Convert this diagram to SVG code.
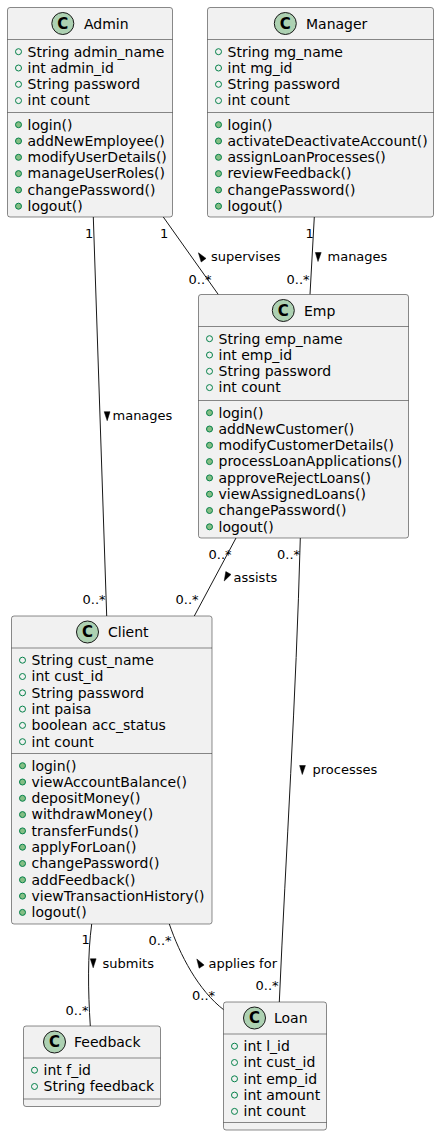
<svg xmlns="http://www.w3.org/2000/svg" width="439" height="1136" viewBox="0 0 439 1136">
<style>
.box{fill:#F1F1F1;stroke:#181818;stroke-width:0.5}
.sep{stroke:#181818;stroke-width:0.5}
.ci{fill:#ADD1B2;stroke:#181818;stroke-width:1}
.cl{font-family:"DejaVu Sans",sans-serif;font-size:15px;font-weight:bold;fill:#000;text-anchor:middle}
.nm{font-family:"DejaVu Sans",sans-serif;font-size:14px;fill:#000}
.mb{font-family:"DejaVu Sans",sans-serif;font-size:14px;fill:#000}
.fm{fill:none;stroke:#038048;stroke-width:1}
.mm{fill:#84BE84;stroke:#038048;stroke-width:1}
.ln{fill:none;stroke:#181818;stroke-width:1}
.lb{font-family:"DejaVu Sans",sans-serif;font-size:13px;fill:#000}
.ar{fill:#000;stroke:#000;stroke-width:0.5}
</style>
<rect width="439" height="1136" fill="#FFFFFF"/>
<g id="connectors">
<path class="ln" d="M93.3,217 L106.7,616"/>
<path class="ln" d="M163.3,217 L218.3,294.5"/>
<path class="ln" d="M314.3,217 L310,294.5"/>
<path class="ln" d="M236,538 L194.3,616"/>
<path class="ln" d="M300.3,538 C296,700 286,850 279.3,1002"/>
<path class="ln" d="M91.7,924 C87.5,955 88,990 90.3,1026"/>
<path class="ln" d="M169.3,924 C180,955 198,990 224,1010"/>
<text class="lb" x="85" y="237.5">1</text>
<text class="lb" x="82.5" y="603.5">0..*</text>
<polygon class="ar" points="107.2,420.7 104.2,411.7 110,411.7"/>
<text class="lb" x="112.5" y="420">manages</text>
<text class="lb" x="160" y="237.5">1</text>
<text class="lb" x="188.5" y="283.5">0..*</text>
<polygon class="ar" points="198.4,252.8 206,258.4 201.2,262"/>
<text class="lb" x="211" y="261">supervises</text>
<text class="lb" x="305.5" y="237.5">1</text>
<text class="lb" x="286.5" y="283.5">0..*</text>
<polygon class="ar" points="318,261.5 315.4,252.5 321.2,252.5"/>
<text class="lb" x="327.5" y="261">manages</text>
<text class="lb" x="208.5" y="558.5">0..*</text>
<text class="lb" x="175.5" y="603.5">0..*</text>
<polygon class="ar" points="224.2,581 231,574.4 225.8,571.6"/>
<text class="lb" x="233.5" y="581.5">assists</text>
<text class="lb" x="277" y="558.5">0..*</text>
<polygon class="ar" points="302.3,774.5 299.6,765.5 305.4,765.5"/>
<text class="lb" x="312.5" y="773.5">processes</text>
<text class="lb" x="255.5" y="990">0..*</text>
<text class="lb" x="81.5" y="944">1</text>
<text class="lb" x="65.5" y="1015">0..*</text>
<polygon class="ar" points="93.2,967.8 90.3,958.8 96.1,958.8"/>
<text class="lb" x="102.5" y="967.5">submits</text>
<text class="lb" x="148.5" y="945">0..*</text>
<polygon class="ar" points="196.8,959 204.1,965 199.1,968.2"/>
<text class="lb" x="208.5" y="967.5">applies for</text>
<text class="lb" x="192" y="1000">0..*</text>
</g>
<g id="Admin">
<rect class="box" x="7.5" y="7.5" width="165" height="209.5" rx="2.5"/>
<ellipse class="ci" cx="62.8" cy="23.5" rx="11" ry="11"/>
<text class="cl" x="62.8" y="28.9">C</text>
<text class="nm" x="84" y="28.5">Admin</text>
<line class="sep" x1="7.5" y1="39.5" x2="172.5" y2="39.5"/>
<ellipse class="fm" cx="18.5" cy="51.7" rx="3" ry="3"/><text class="mb" x="27.5" y="56.5">String admin_name</text>
<ellipse class="fm" cx="18.5" cy="68" rx="3" ry="3"/><text class="mb" x="27.5" y="72.8">int admin_id</text>
<ellipse class="fm" cx="18.5" cy="84.3" rx="3" ry="3"/><text class="mb" x="27.5" y="89.1">String password</text>
<ellipse class="fm" cx="18.5" cy="100.6" rx="3" ry="3"/><text class="mb" x="27.5" y="105.4">int count</text>
<line class="sep" x1="7.5" y1="112.5" x2="172.5" y2="112.5"/>
<ellipse class="mm" cx="18.5" cy="124.7" rx="3" ry="3"/><text class="mb" x="27.5" y="129.5">login()</text>
<ellipse class="mm" cx="18.5" cy="141" rx="3" ry="3"/><text class="mb" x="27.5" y="145.8">addNewEmployee()</text>
<ellipse class="mm" cx="18.5" cy="157.3" rx="3" ry="3"/><text class="mb" x="27.5" y="162.1">modifyUserDetails()</text>
<ellipse class="mm" cx="18.5" cy="173.6" rx="3" ry="3"/><text class="mb" x="27.5" y="178.4">manageUserRoles()</text>
<ellipse class="mm" cx="18.5" cy="189.9" rx="3" ry="3"/><text class="mb" x="27.5" y="194.7">changePassword()</text>
<ellipse class="mm" cx="18.5" cy="206.2" rx="3" ry="3"/><text class="mb" x="27.5" y="211">logout()</text>
</g>
<g id="Manager">
<rect class="box" x="207.5" y="7.5" width="226" height="209.5" rx="2.5"/>
<ellipse class="ci" cx="285.3" cy="23.5" rx="11" ry="11"/>
<text class="cl" x="285.3" y="28.9">C</text>
<text class="nm" x="306" y="28.5">Manager</text>
<line class="sep" x1="207.5" y1="39.5" x2="433.5" y2="39.5"/>
<ellipse class="fm" cx="218.5" cy="51.7" rx="3" ry="3"/><text class="mb" x="227.5" y="56.5">String mg_name</text>
<ellipse class="fm" cx="218.5" cy="68" rx="3" ry="3"/><text class="mb" x="227.5" y="72.8">int mg_id</text>
<ellipse class="fm" cx="218.5" cy="84.3" rx="3" ry="3"/><text class="mb" x="227.5" y="89.1">String password</text>
<ellipse class="fm" cx="218.5" cy="100.6" rx="3" ry="3"/><text class="mb" x="227.5" y="105.4">int count</text>
<line class="sep" x1="207.5" y1="112.5" x2="433.5" y2="112.5"/>
<ellipse class="mm" cx="218.5" cy="124.7" rx="3" ry="3"/><text class="mb" x="227.5" y="129.5">login()</text>
<ellipse class="mm" cx="218.5" cy="141" rx="3" ry="3"/><text class="mb" x="227.5" y="145.8">activateDeactivateAccount()</text>
<ellipse class="mm" cx="218.5" cy="157.3" rx="3" ry="3"/><text class="mb" x="227.5" y="162.1">assignLoanProcesses()</text>
<ellipse class="mm" cx="218.5" cy="173.6" rx="3" ry="3"/><text class="mb" x="227.5" y="178.4">reviewFeedback()</text>
<ellipse class="mm" cx="218.5" cy="189.9" rx="3" ry="3"/><text class="mb" x="227.5" y="194.7">changePassword()</text>
<ellipse class="mm" cx="218.5" cy="206.2" rx="3" ry="3"/><text class="mb" x="227.5" y="211">logout()</text>
</g>
<g id="Emp">
<rect class="box" x="198.5" y="294.5" width="210" height="243.5" rx="2.5"/>
<ellipse class="ci" cx="283.3" cy="310.5" rx="11" ry="11"/>
<text class="cl" x="283.3" y="315.9">C</text>
<text class="nm" x="304" y="315.5">Emp</text>
<line class="sep" x1="198.5" y1="326.5" x2="408.5" y2="326.5"/>
<ellipse class="fm" cx="209.5" cy="338.7" rx="3" ry="3"/><text class="mb" x="218.5" y="343.5">String emp_name</text>
<ellipse class="fm" cx="209.5" cy="355" rx="3" ry="3"/><text class="mb" x="218.5" y="359.8">int emp_id</text>
<ellipse class="fm" cx="209.5" cy="371.3" rx="3" ry="3"/><text class="mb" x="218.5" y="376.1">String password</text>
<ellipse class="fm" cx="209.5" cy="387.6" rx="3" ry="3"/><text class="mb" x="218.5" y="392.4">int count</text>
<line class="sep" x1="198.5" y1="400.5" x2="408.5" y2="400.5"/>
<ellipse class="mm" cx="209.5" cy="412.7" rx="3" ry="3"/><text class="mb" x="218.5" y="417.5">login()</text>
<ellipse class="mm" cx="209.5" cy="429" rx="3" ry="3"/><text class="mb" x="218.5" y="433.8">addNewCustomer()</text>
<ellipse class="mm" cx="209.5" cy="445.3" rx="3" ry="3"/><text class="mb" x="218.5" y="450.1">modifyCustomerDetails()</text>
<ellipse class="mm" cx="209.5" cy="461.6" rx="3" ry="3"/><text class="mb" x="218.5" y="466.4">processLoanApplications()</text>
<ellipse class="mm" cx="209.5" cy="477.9" rx="3" ry="3"/><text class="mb" x="218.5" y="482.7">approveRejectLoans()</text>
<ellipse class="mm" cx="209.5" cy="494.2" rx="3" ry="3"/><text class="mb" x="218.5" y="499">viewAssignedLoans()</text>
<ellipse class="mm" cx="209.5" cy="510.5" rx="3" ry="3"/><text class="mb" x="218.5" y="515.3">changePassword()</text>
<ellipse class="mm" cx="209.5" cy="526.8" rx="3" ry="3"/><text class="mb" x="218.5" y="531.6">logout()</text>
</g>
<g id="Client">
<rect class="box" x="11.5" y="616" width="200.5" height="308" rx="2.5"/>
<ellipse class="ci" cx="87.5" cy="632" rx="11" ry="11"/>
<text class="cl" x="87.5" y="637.4">C</text>
<text class="nm" x="108" y="637">Client</text>
<line class="sep" x1="11.5" y1="648" x2="212" y2="648"/>
<ellipse class="fm" cx="22.5" cy="660.2" rx="3" ry="3"/><text class="mb" x="31.5" y="665">String cust_name</text>
<ellipse class="fm" cx="22.5" cy="676.5" rx="3" ry="3"/><text class="mb" x="31.5" y="681.3">int cust_id</text>
<ellipse class="fm" cx="22.5" cy="692.8" rx="3" ry="3"/><text class="mb" x="31.5" y="697.6">String password</text>
<ellipse class="fm" cx="22.5" cy="709.1" rx="3" ry="3"/><text class="mb" x="31.5" y="713.9">int paisa</text>
<ellipse class="fm" cx="22.5" cy="725.4" rx="3" ry="3"/><text class="mb" x="31.5" y="730.2">boolean acc_status</text>
<ellipse class="fm" cx="22.5" cy="741.7" rx="3" ry="3"/><text class="mb" x="31.5" y="746.5">int count</text>
<line class="sep" x1="11.5" y1="753.5" x2="212" y2="753.5"/>
<ellipse class="mm" cx="22.5" cy="765.7" rx="3" ry="3"/><text class="mb" x="31.5" y="770.5">login()</text>
<ellipse class="mm" cx="22.5" cy="782" rx="3" ry="3"/><text class="mb" x="31.5" y="786.8">viewAccountBalance()</text>
<ellipse class="mm" cx="22.5" cy="798.3" rx="3" ry="3"/><text class="mb" x="31.5" y="803.1">depositMoney()</text>
<ellipse class="mm" cx="22.5" cy="814.6" rx="3" ry="3"/><text class="mb" x="31.5" y="819.4">withdrawMoney()</text>
<ellipse class="mm" cx="22.5" cy="830.9" rx="3" ry="3"/><text class="mb" x="31.5" y="835.7">transferFunds()</text>
<ellipse class="mm" cx="22.5" cy="847.2" rx="3" ry="3"/><text class="mb" x="31.5" y="852">applyForLoan()</text>
<ellipse class="mm" cx="22.5" cy="863.5" rx="3" ry="3"/><text class="mb" x="31.5" y="868.3">changePassword()</text>
<ellipse class="mm" cx="22.5" cy="879.8" rx="3" ry="3"/><text class="mb" x="31.5" y="884.6">addFeedback()</text>
<ellipse class="mm" cx="22.5" cy="896.1" rx="3" ry="3"/><text class="mb" x="31.5" y="900.9">viewTransactionHistory()</text>
<ellipse class="mm" cx="22.5" cy="912.4" rx="3" ry="3"/><text class="mb" x="31.5" y="917.2">logout()</text>
</g>
<g id="Feedback">
<rect class="box" x="23.5" y="1026" width="137" height="80.5" rx="2.5"/>
<ellipse class="ci" cx="54.5" cy="1042" rx="11" ry="11"/>
<text class="cl" x="54.5" y="1047.4">C</text>
<text class="nm" x="74" y="1047">Feedback</text>
<line class="sep" x1="23.5" y1="1058" x2="160.5" y2="1058"/>
<ellipse class="fm" cx="34.5" cy="1070.2" rx="3" ry="3"/><text class="mb" x="43.5" y="1075">int f_id</text>
<ellipse class="fm" cx="34.5" cy="1086.5" rx="3" ry="3"/><text class="mb" x="43.5" y="1091.3">String feedback</text>
<line class="sep" x1="23.5" y1="1099" x2="160.5" y2="1099"/>
</g>
<g id="Loan">
<rect class="box" x="223.5" y="1002" width="103" height="128" rx="2.5"/>
<ellipse class="ci" cx="254.5" cy="1018" rx="11" ry="11"/>
<text class="cl" x="254.5" y="1023.4">C</text>
<text class="nm" x="274" y="1023">Loan</text>
<line class="sep" x1="223.5" y1="1034" x2="326.5" y2="1034"/>
<ellipse class="fm" cx="234.5" cy="1046.2" rx="3" ry="3"/><text class="mb" x="243.5" y="1051">int l_id</text>
<ellipse class="fm" cx="234.5" cy="1062.5" rx="3" ry="3"/><text class="mb" x="243.5" y="1067.3">int cust_id</text>
<ellipse class="fm" cx="234.5" cy="1078.8" rx="3" ry="3"/><text class="mb" x="243.5" y="1083.6">int emp_id</text>
<ellipse class="fm" cx="234.5" cy="1095.1" rx="3" ry="3"/><text class="mb" x="243.5" y="1099.9">int amount</text>
<ellipse class="fm" cx="234.5" cy="1111.4" rx="3" ry="3"/><text class="mb" x="243.5" y="1116.2">int count</text>
<line class="sep" x1="223.5" y1="1122.5" x2="326.5" y2="1122.5"/>
</g>
</svg>
